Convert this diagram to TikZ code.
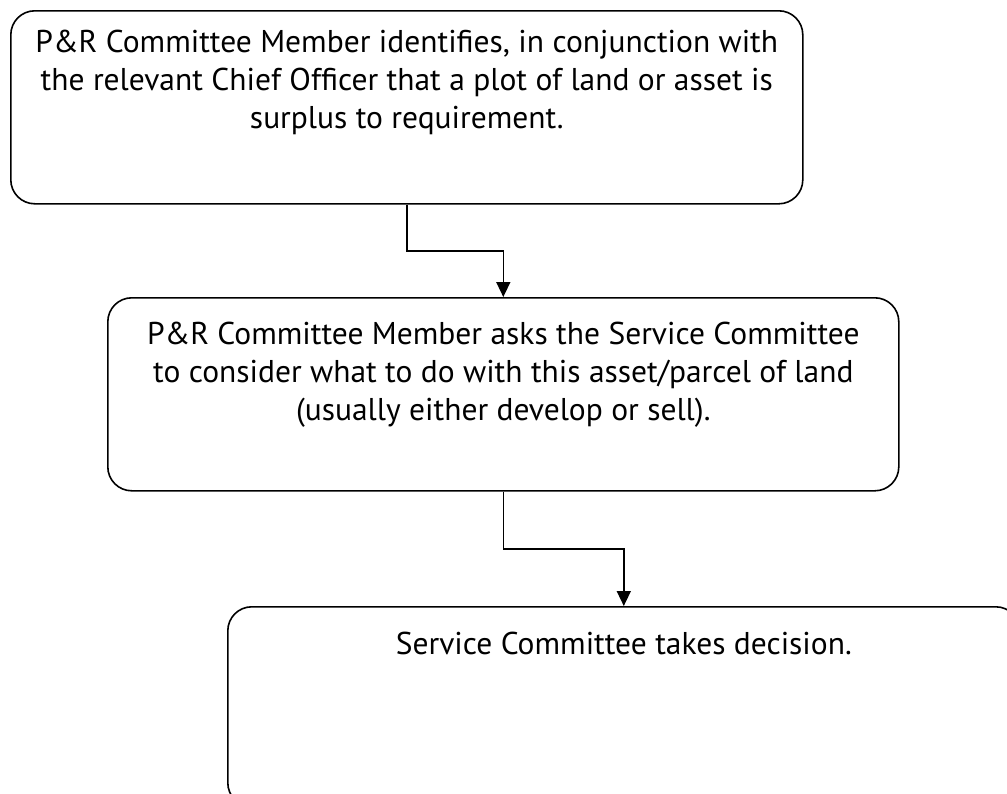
\documentclass[tikz,border=0pt]{standalone}
\usepackage{fontspec}
\setmainfont{PT Sans}
\usetikzlibrary{arrows.meta,calc}
\begin{document}
\begin{tikzpicture}[x=1pt,y=-1pt,
  box/.style={draw=black,line width=1.6pt,rounded corners=24pt,inner sep=0pt,anchor=north west},
  txt/.style={anchor=north,align=center,inner sep=0pt,font=\fontsize{31.5}{38}\selectfont},
  conn/.style={draw=black,line width=1.6pt,-{Triangle[length=15pt,width=14pt]}}]
\useasboundingbox (0,0) rectangle (1007,793);
\clip (0,0) rectangle (1007,793);
\node[box,minimum width=792pt,minimum height=193pt] (b1) at (10,10) {};
\node[box,minimum width=791pt,minimum height=193pt] (b2) at (107,297) {};
\node[box,minimum width=792pt,minimum height=200pt] (b3) at (227,606) {};
\node[txt] (t1) at ([yshift=-20pt]b1.north) {P\&R Committee Member identifies, in conjunction with\\the relevant Chief Officer that a plot of land or asset is\\surplus to requirement.};
\node[txt] (t2) at ([yshift=-25pt]b2.north) {P\&R Committee Member asks the Service Committee\\to consider what to do with this asset/parcel of land\\(usually either develop or sell).};
\node[txt] (t3) at ([yshift=-26pt]b3.north) {Service Committee takes decision.};
\draw[conn] (b1.south) |- ($(b1.south)!0.5!(b2.north)$) -| (b2.north);
\draw[conn] (b2.south) |- ($(b2.south)!0.5!(b3.north)$) -| (b3.north);
\end{tikzpicture}
\end{document}
